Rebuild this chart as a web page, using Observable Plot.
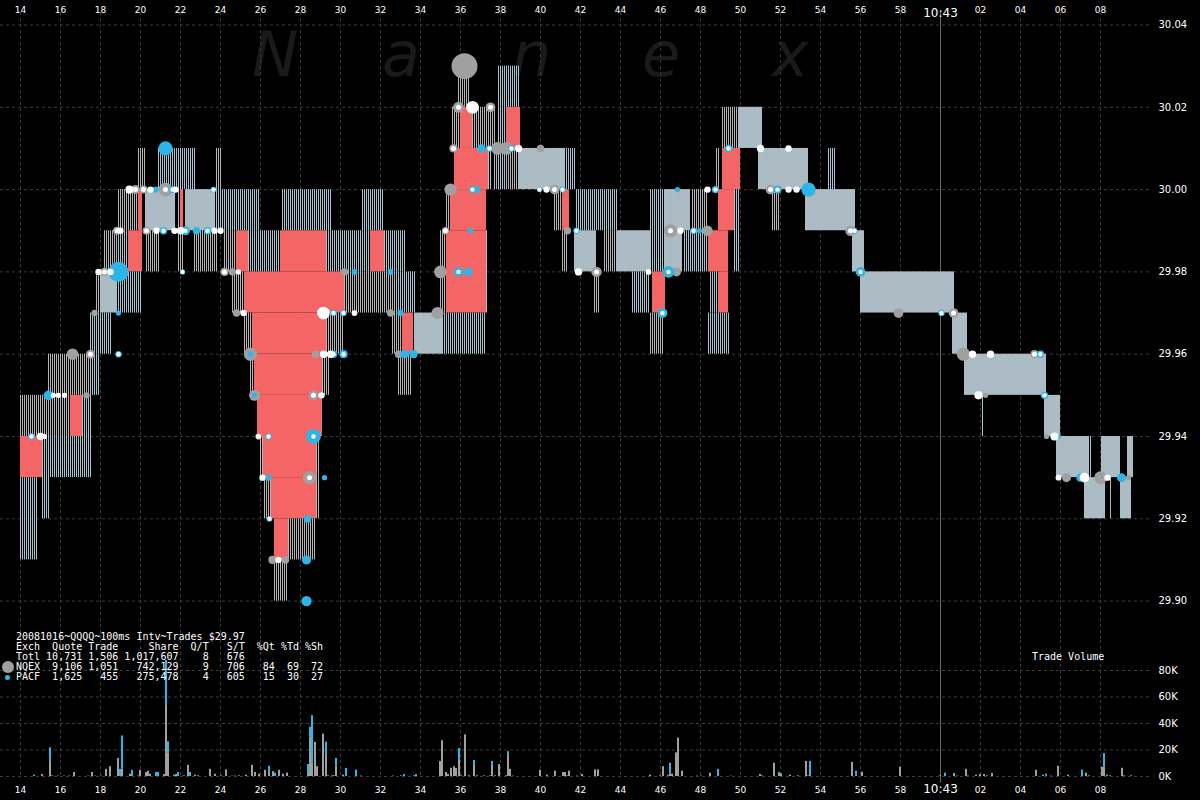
<!DOCTYPE html>
<html><head><meta charset="utf-8">
<script src="https://cdn.jsdelivr.net/npm/d3@7"></script>
<script src="https://cdn.jsdelivr.net/npm/@observablehq/plot@0.6"></script>
<style>
html,body{margin:0;padding:0;background:#000;}
#wrap{position:relative;width:1200px;height:800px;background:#000;overflow:hidden;}
#wm{position:absolute;left:252px;top:24px;font:italic 62px/62px "DejaVu Sans",sans-serif;color:#1a1a1a;white-space:nowrap;}
#wm span{display:inline-block;width:130px;}
#price,#vol{position:absolute;left:0;}
#price{top:0;}
#vol{top:640px;}
#table{position:absolute;left:16px;top:632px;font:10px/10px "DejaVu Sans Mono",monospace;color:#fff;white-space:pre;margin:0;}
.legdot{position:absolute;border-radius:50%;}
#tv{position:absolute;left:1032px;top:651px;font:10px/12px "DejaVu Sans Mono",monospace;color:#fff;}
</style></head>
<body>
<div id="wrap">
  <div id="wm"><span>N</span><span>a</span><span>n</span><span>e</span><span>x</span></div>
  <div id="price"></div>
  <div id="vol"></div>
  <pre id="table"></pre>
  <div class="legdot" style="left:2px;top:661px;width:12px;height:12px;background:#a0a0a0"></div>
  <div class="legdot" style="left:5px;top:675px;width:5px;height:5px;background:#2cb5e8"></div>
  <div id="tv">Trade Volume</div>
</div>
<script>
// ---- tick labels ----
const timeTicks = [14,16,18,20,22,24,26,28,30,32,34,36,38,40,42,44,46,48,50,52,54,56,58,60,62,64,66,68];
const priceTicks = [29.90, 29.92, 29.94, 29.96, 29.98, 30.00, 30.02, 30.04];
const volumeTicks = [0, 20000, 40000, 60000, 80000];

// ---- summary table ----
const tableTitle = "20081016~QQQQ~100ms Intv~Trades $29.97";
const tableRows = [
  "Exch  Quote Trade     Share  Q/T   S/T  %Qt %Td %Sh",
  "Totl 10,731 1,506 1,017,607    8   676",
  "NQEX  9,106 1,051   742,129    9   706   84  69  72",
  "PACF  1,625   455   275,478    4   605   15  30  27"
];

// ---- quote spread blocks [tStart, tEnd, priceLow, priceHigh] (t = seconds after 10:42) ----
const grayBlocks = [
  [14.0,16.5,29.94,29.95],[15.4,17.5,29.95,29.96],[17.75,18.0,29.97,29.98],[18.2,18.9,29.98,29.99],
  [18.9,19.9,29.99,30.00],[19.9,20.3,30.00,30.01],[20.25,21.0,29.98,29.99],[21.9,22.15,29.98,30.00],
  [22.65,23.9,29.98,29.99],[23.75,24.1,30.00,30.01],[24.15,24.8,29.98,29.99],[24.6,25.2,29.97,29.98],
  [25.2,25.6,29.96,29.97],[25.5,25.7,29.95,29.96],[25.95,26.2,29.93,29.95],[26.2,26.55,29.92,29.94],
  [26.7,27.35,29.90,29.91],[27.4,28.8,29.91,29.92],[28.8,28.95,29.92,29.94],[29.1,29.45,29.95,29.96],
  [29.3,30.15,29.96,29.97],[30.2,32.75,29.97,29.98],[32.6,33.1,29.96,29.97],[32.9,33.6,29.95,29.96],
  [35.0,35.3,29.97,29.99],[35.3,35.5,29.99,30.00],[35.7,35.9,30.00,30.01],[35.6,36.0,30.01,30.02],
  [35.9,36.5,30.02,30.03],[36.6,37.75,30.01,30.02],[37.65,38.9,30.00,30.01],[41.05,41.4,29.98,29.99],
  [40.7,41.15,29.99,30.00],[42.65,42.95,29.97,29.98],[43.15,43.8,29.98,29.99],[45.5,46.15,29.96,29.97],
  [47.6,48.4,29.99,30.00],[48.8,49.0,30.00,30.01],[49.1,49.9,30.01,30.02],[51.6,52.0,29.99,30.00],
  [68.5,68.55,29.92,29.93]
];
const blueBlocks = [
  [14.0,14.9,29.91,29.93],[15.1,15.5,29.92,29.94],[15.3,17.6,29.93,29.94],[17.1,17.6,29.94,29.95],
  [17.5,18.0,29.95,29.96],[17.5,18.6,29.96,29.97],[18.85,20.1,29.97,29.98],[18.9,19.4,29.98,29.99],
  [20.85,22.8,30.00,30.01],[23.75,26.0,29.99,30.00],[25.4,27.0,29.98,29.99],[27.05,29.6,29.99,30.00],
  [29.3,31.5,29.98,29.99],[31.05,32.15,29.99,30.00],[32.2,33.3,29.98,29.99],[32.75,33.8,29.97,29.98],
  [34.85,34.9,29.95,29.96],[35.1,37.3,29.96,29.97],[37.3,37.4,29.97,29.99],[37.4,37.6,30.00,30.01],
  [37.85,39.0,30.02,30.03],[37.85,38.3,30.00,30.02],[41.25,41.75,30.00,30.01],[41.75,43.9,29.99,30.00],
  [44.55,45.5,29.97,29.98],[45.5,46.5,29.98,30.00],[47.15,48.4,29.98,29.99],[48.4,49.5,29.96,29.97],
  [48.45,48.9,29.97,29.98],[49.7,50.0,29.98,30.00],[54.35,54.75,30.00,30.01],[61.95,62.0,29.94,29.95],
  [62.1,62.15,29.94,29.95],[67.5,67.6,29.93,29.94]
];
const lightBlocks = [
  [18.0,18.85,29.97,29.98],[20.25,21.75,29.99,30.00],[22.25,23.75,29.99,30.00],[33.7,35.15,29.96,29.97],
  [38.9,41.25,30.00,30.01],[41.7,42.8,29.98,29.99],[43.8,45.5,29.98,29.99],[46.25,47.5,29.99,30.00],
  [46.25,47.1,29.98,29.99],[49.9,51.1,30.01,30.02],[50.9,53.4,30.00,30.01],[53.25,55.75,29.99,30.00],
  [55.6,56.2,29.98,29.99],[56.0,60.7,29.97,29.98],[60.6,61.35,29.96,29.97],[61.2,65.3,29.95,29.96],
  [65.2,66.0,29.94,29.95],[65.8,67.45,29.93,29.94],[68.05,69.0,29.93,29.94],[69.35,69.65,29.93,29.94],
  [67.2,68.25,29.92,29.93],[69.0,69.55,29.92,29.93]
];
const crossedBlocks = [
  [14.0,15.1,29.93,29.94],[16.5,17.1,29.94,29.95],[19.4,20.1,29.98,29.99],[19.9,20.1,29.99,30.00],
  [22.0,22.15,29.99,30.00],[24.8,25.4,29.98,29.99],[25.2,30.2,29.97,29.98],[27.0,29.3,29.98,29.99],
  [31.5,32.2,29.98,29.99],[25.6,29.3,29.96,29.97],[25.7,29.1,29.95,29.96],[25.85,29.1,29.94,29.95],
  [26.15,28.8,29.93,29.94],[26.55,28.8,29.92,29.93],[26.7,27.4,29.91,29.92],[33.1,33.65,29.96,29.97],
  [35.3,37.3,29.97,29.99],[35.5,37.3,29.99,30.00],[35.7,37.4,30.00,30.01],[36.0,36.6,30.01,30.02],
  [38.3,39.0,30.01,30.02],[41.1,41.45,29.99,30.00],[45.6,46.25,29.97,29.98],[49.1,50.0,30.00,30.01],
  [48.9,49.7,29.99,30.00],[48.4,49.4,29.98,29.99],[48.9,49.4,29.97,29.98]
];

// ---- trades [t, price, shares, whiteCenter] ----
const nqexTrades = [
  [16.6,29.96,1000,0],[17.3,29.95,300,0],[17.5,29.96,600,1],[17.7,29.97,300,0],[18.2,29.98,500,1],
  [18.83,29.99,500,1],[19.75,30.00,600,1],[20.15,30.00,500,1],[21.25,30.00,1400,1],[20.3,29.99,500,1],
  [24.2,29.98,500,1],[24.6,29.98,400,0],[24.8,29.97,400,0],[25.5,29.96,1300,0],[25.7,29.95,900,0],
  [25.9,29.94,300,1],[26.6,29.91,500,0],[27.25,29.91,400,0],[28.45,29.93,1300,1],[28.65,29.95,700,1],
  [28.75,29.96,400,0],[30.2,29.98,400,0],[32.5,29.97,400,0],[32.9,29.96,400,0],[34.85,29.97,1100,0],
  [35.0,29.98,1200,0],[35.25,29.99,400,1],[35.5,30.00,1100,0],[35.65,30.01,500,1],[35.9,30.02,900,1],
  [36.2,30.03,5000,0],[37.5,30.02,700,1],[37.85,30.01,1200,0],[38.3,30.01,1200,0],[40.0,30.01,400,0],
  [40.7,30.00,700,1],[41.35,29.99,400,0],[42.8,29.98,800,1],[46.8,29.98,600,0],[46.5,29.99,1300,1],
  [48.35,29.99,800,0],[51.5,30.00,700,1],[55.5,29.99,800,1],[57.9,29.97,700,0],[60.65,29.97,700,1],
  [61.15,29.96,1300,0],[64.7,29.96,500,1],[62.25,29.95,200,0],[65.3,29.94,200,0],[66.3,29.93,600,0],
  [68.0,29.93,1200,0],[69.4,29.93,200,0]
];
const pacfTrades = [
  [14.55,29.94,300,1],[15.4,29.95,700,0],[18.9,29.96,300,1],[18.9,29.97,200,0],[18.9,29.98,3000,0],
  [20.75,30.00,300,0],[21.6,30.00,400,1],[21.25,30.01,1500,0],[21.15,29.99,400,1],[22.25,29.99,600,1],
  [22.8,29.99,400,0],[23.35,29.99,400,1],[23.65,30.00,250,1],[22.1,29.98,200,1],[25.5,29.96,200,0],
  [25.7,29.95,200,0],[26.4,29.94,300,1],[26.4,29.93,300,0],[26.45,29.92,250,1],[28.3,29.91,600,0],
  [28.3,29.90,800,0],[28.35,29.92,450,0],[29.2,29.93,200,0],[28.65,29.94,1600,1],[29.65,29.96,400,1],
  [30.15,29.96,500,1],[29.65,29.97,300,1],[30.15,29.97,300,1],[30.7,29.98,250,0],[32.5,29.98,250,0],
  [33.0,29.97,300,0],[33.2,29.96,500,0],[33.65,29.96,500,0],[35.9,29.98,700,1],[36.4,29.98,500,0],
  [36.5,29.99,250,0],[36.6,30.00,350,1],[36.8,30.00,400,0],[37.05,30.01,500,0],[37.45,30.01,300,1],
  [38.55,30.01,300,1],[39.95,30.00,200,1],[41.1,30.00,300,1],[41.8,29.99,300,1],[46.4,29.98,1000,1],
  [46.1,29.97,700,1],[46.85,30.00,200,0],[47.65,29.99,300,1],[47.95,29.99,200,0],[48.75,30.00,400,1],
  [49.4,30.01,400,1],[51.85,30.00,500,1],[53.4,30.00,1500,0],[55.7,29.99,250,1],[56.0,29.98,700,1],
  [60.05,29.97,300,1],[65.0,29.96,400,1],[65.2,29.95,400,1],[65.9,29.94,200,0],[67.0,29.93,500,0],
  [69.05,29.93,600,0]
];
const otherTrades = [
  [15.0,29.94,400],[15.2,29.94,200],[15.65,29.95,200],[15.9,29.95,200],[16.2,29.95,200],
  [17.9,29.98,300],[18.5,29.98,300],[19.0,29.99,300],[19.45,30.00,500],[20.5,30.00,300],[21.75,30.00,300],
  [20.8,29.99,300],[21.7,29.99,300],[22.0,29.99,400],[23.7,29.99,300],[24.0,29.99,300],
  [24.9,29.98,200],[25.15,29.97,300],[26.1,29.93,300],[26.9,29.91,300],[29.05,29.95,300],
  [29.15,29.96,400],[29.5,29.96,400],[29.15,29.97,1200],[30.7,29.97,250],
  [36.6,30.02,1200],[38.9,30.01,400],[40.3,30.00,300],[41.9,29.98,400],[45.4,29.98,250],
  [47.0,29.99,300],[48.35,30.00,300],[51.0,30.01,400],[52.4,30.01,300],[52.4,30.00,300],[52.8,30.00,300],
  [61.6,29.96,400],[62.5,29.96,400],[61.9,29.95,500],[65.7,29.94,500],[65.9,29.93,250],[67.2,29.93,700],[68.35,29.93,300]
];

// ---- trade volume per 100ms [t, NQEX shares, PACF shares] ----
const volumeBars = [
  [14.65,0,1000],[15.05,1500,0],[15.45,12000,9600],[15.55,0,500],[15.85,300,0],[16.15,300,0],[16.4,300,0],
  [16.65,3000,0],[17.35,300,0],[17.55,3000,0],[17.7,300,0],[18.0,300,0],[18.25,5400,0],[18.45,7400,0],
  [18.85,13600,0],[18.95,0,5400],[19.05,5400,25200],[19.45,1700,0],[19.55,0,4700],[19.85,0,300],
  [19.95,4700,0],[20.25,3000,0],[20.35,4000,0],[20.45,1700,0],[20.75,0,3000],[20.85,0,3000],[21.15,1500,0],
  [21.25,53600,34000],[21.35,17800,8400],[21.65,0,1000],[21.75,1500,0],[21.85,0,3000],[22.15,500,0],
  [22.35,8400,0],[22.45,0,3000],[22.7,1000,0],[22.85,500,0],[23.45,5400,0],[23.7,1700,0],[24.0,500,0],
  [24.25,5000,0],[24.55,0,300],[24.7,0,300],[24.9,500,0],[25.25,1000,0],[25.55,8400,0],[25.7,3000,0],
  [25.9,1700,0],[26.2,4700,0],[26.4,3000,4700],[26.6,3700,0],[26.7,0,2500],[26.9,4700,0],[27.1,1700,0],
  [27.3,2500,0],[28.35,1500,7500],[28.45,29600,7600],[28.55,10000,36000],[28.7,25700,0],[28.8,7400,0],
  [29.1,32000,0],[29.25,16500,9500],[29.35,0,500],[29.55,500,0],[29.65,500,0],[29.75,8000,5600],
  [30.1,1000,0],[30.25,0,6000],[30.75,0,4900],[31.0,300,0],[32.6,300,0],[33.0,500,0],[33.15,0,1500],
  [33.65,500,0],[33.75,0,1500],[34.95,11400,0],[35.05,27000,0],[35.25,3000,0],[35.35,1500,0],
  [35.5,6200,0],[35.65,7400,0],[35.75,6000,0],[35.9,12800,8200],[36.0,500,0],[36.2,31400,0],[36.4,500,0],
  [36.65,8400,3700],[36.8,0,500],[37.15,0,500],[37.45,0,500],[37.55,8400,3000],[37.7,500,0],[37.9,9000,0],
  [38.25,0,500],[38.35,16500,2300],[38.45,5400,0],[38.6,0,300],[39.95,4700,0],[40.3,1000,0],[40.7,4000,0],
  [41.1,3000,0],[41.2,3000,0],[41.3,0,500],[41.4,4000,0],[41.8,0,300],[42.05,1500,0],[42.7,5000,0],
  [42.85,5000,0],[45.45,1000,0],[45.95,500,0],[46.1,7400,0],[46.35,500,500],[46.45,2000,8000],
  [46.55,1700,0],[46.75,17800,0],[46.85,29000,0],[47.05,4000,0],[47.8,0,300],[48.0,0,300],[48.45,2500,0],
  [48.85,0,5400],[49.5,0,300],[50.95,1500,0],[51.05,0,500],[51.65,10000,0],[51.9,1500,1500],[52.0,2000,0],
  [52.45,1000,0],[52.85,500,0],[53.25,11400,0],[53.35,0,500],[53.45,0,11400],[55.55,10600,0],
  [55.75,1000,3000],[56.05,3200,0],[57.95,7000,0],[59.95,500,0],[60.2,0,2500],[60.65,2200,0],[60.8,0,300],
  [61.25,5400,0],[61.35,0,300],[61.75,1000,0],[61.95,1500,0],[62.15,1500,0],[62.3,500,0],[62.55,2200,0],
  [64.75,4700,0],[65.1,0,1000],[65.25,500,1200],[65.5,0,300],[65.85,7700,0],[66.35,1000,0],[67.05,0,4700],
  [67.25,2500,0],[67.4,0,500],[68.05,7000,0],[68.15,7000,10300],[68.3,0,1000],[68.45,500,0],[69.05,6200,0],
  [69.15,0,500],[69.5,500,0]
];

// ---- rendering ----
const GRID = "#3a3a3a", GRAY = "#a0a0a0", BLUE = "#2cb5e8";
const fmtT = t => t === 60 ? "10:43" : String(t % 60).padStart(2, "0");
const xDomain = [13, 70.5];
const font = {background: "transparent", color: "#fff", fontFamily: "DejaVu Sans, sans-serif", fontSize: "10px"};
const blockMark = (data, fill) => Plot.rect(data, {x1: d => d[0], x2: d => d[1], y1: d => d[2], y2: d => d[3], fill});

const price = Plot.plot({
  width: 1200, height: 642,
  marginLeft: 0, marginRight: 50, marginTop: 24.5, marginBottom: 0.25,
  x: {domain: xDomain, axis: null},
  y: {domain: [29.89, 30.04]},
  r: {type: "sqrt", domain: [0, 5000], range: [0, 13]},
  style: font,
  marks: [
    Plot.ruleY(priceTicks, {y: d => d, x1: 13, x2: 70.6, stroke: GRID, strokeDasharray: "3,3"}),
    Plot.ruleX(timeTicks, {x: d => d, y1: 30.043, y2: 29.89, stroke: GRID, strokeDasharray: "3,3"}),
    Plot.ruleX([60], {x: d => d, y1: 30.043, y2: 29.89, stroke: "#6a6a6a"}),
    blockMark(grayBlocks, "url(#pg)"),
    blockMark(blueBlocks, "url(#pb)"),
    blockMark(lightBlocks, "url(#ps)"),
    blockMark(crossedBlocks, "#f46565"),
    Plot.dot(nqexTrades, {x: d => d[0], y: d => d[1], r: d => d[2], fill: GRAY}),
    Plot.dot(pacfTrades, {x: d => d[0], y: d => d[1], r: d => d[2], fill: BLUE}),
    Plot.dot(otherTrades, {x: d => d[0], y: d => d[1], r: d => d[2], fill: "#fff"}),
    Plot.dot(nqexTrades.filter(d => d[3]), {x: d => d[0], y: d => d[1], r: 2.5, fill: "#fff"}),
    Plot.dot(pacfTrades.filter(d => d[3]), {x: d => d[0], y: d => d[1], r: 2.2, fill: "#fff"}),
    Plot.text(timeTicks.filter(t => t !== 60), {x: d => d, text: fmtT, frameAnchor: "top", dy: -18, fill: "#fff", fontSize: 9}),
    Plot.text([60], {x: d => d, text: fmtT, frameAnchor: "top", dy: -17, fill: "#fff", fontSize: 12}),
    Plot.axisY(priceTicks, {anchor: "right", tickSize: 0, tickPadding: 8, tickFormat: d3.format(".2f"), fill: "#fff", fontSize: 10, label: null})
  ]
});

const defs = d3.select(price).insert("defs", ":first-child");
function stripes(id, colors) {
  const p = defs.append("pattern").attr("id", id).attr("patternUnits", "userSpaceOnUse")
    .attr("width", colors.length).attr("height", 8);
  colors.forEach((c, i) => { if (c) p.append("rect").attr("x", i).attr("y", 0).attr("width", 1).attr("height", 8).attr("fill", c); });
}
stripes("pg", ["#b4b4b4", null]);
stripes("pb", ["#a0c4d0", null]);
stripes("ps", ["#9cc4d4", "#bcb4b4"]);
document.getElementById("price").appendChild(price);

const vol = Plot.plot({
  width: 1200, height: 160,
  marginLeft: 0, marginRight: 50, marginTop: 30, marginBottom: 24,
  x: {domain: xDomain, axis: null},
  y: {domain: [0, 80000]},
  style: font,
  marks: [
    Plot.ruleY(volumeTicks, {y: d => d, x1: 13, x2: 70.6, stroke: GRID, strokeDasharray: "3,3"}),
    Plot.ruleX(timeTicks, {x: d => d, y1: 102600, y2: -2000, stroke: GRID, strokeDasharray: "3,3"}),
    Plot.ruleX([60], {x: d => d, y1: 102600, y2: -5000, stroke: "#6a6a6a"}),
    Plot.rect(volumeBars.filter(d => d[1] > 0), {x1: d => d[0], x2: d => d[0] + 0.1, y1: 0, y2: d => d[1], fill: GRAY}),
    Plot.rect(volumeBars.filter(d => d[2] > 0), {x1: d => d[0], x2: d => d[0] + 0.1, y1: d => d[1], y2: d => d[1] + d[2], fill: BLUE}),
    Plot.text(timeTicks.filter(t => t !== 60), {x: d => d, text: fmtT, frameAnchor: "bottom", dy: 16, fill: "#fff", fontSize: 9}),
    Plot.text([60], {x: d => d, text: fmtT, frameAnchor: "bottom", dy: 16, fill: "#fff", fontSize: 12}),
    Plot.axisY(volumeTicks, {anchor: "right", tickSize: 0, tickPadding: 8, tickFormat: d => d / 1000 + "K", fill: "#fff", fontSize: 10, label: null})
  ]
});
document.getElementById("vol").appendChild(vol);

document.getElementById("table").textContent = [tableTitle, ...tableRows].join("\n");
</script>
</body></html>
